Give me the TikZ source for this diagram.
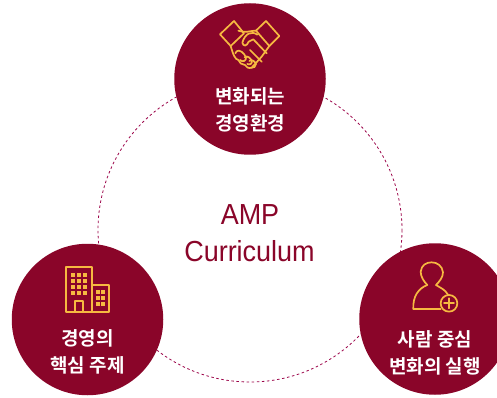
\documentclass[tikz,border=0pt]{standalone}
\usepackage{fontspec}
\setmainfont[FakeStretch=0.93]{Liberation Sans}
\newfontfamily\krfont{Noto Sans CJK KR Bold}[BoldFont=*]
\definecolor{wine}{HTML}{8A0529}
\definecolor{gold}{HTML}{F6B941}
\tikzset{
  disc/.style={circle,fill=wine,minimum size=151.5pt,inner sep=0pt,draw=none},
  lab/.style={text=white,font=\krfont\fontsize{19pt}{27pt}\selectfont,align=center,inner sep=0pt},
  title/.style={text=wine,font=\fontsize{29pt}{36pt}\selectfont,inner sep=0pt},
  ico/.style={draw=gold,line width=1.7pt,line join=round,line cap=round},
  win/.style={fill=gold,draw=none}
}
\begin{document}
\begin{tikzpicture}[x=1pt,y=-1pt]
\useasboundingbox (0,0) rectangle (497,398);
\fill[white] (0,0) rectangle (497,398);
\draw[wine!85!magenta,line width=0.8pt,dash pattern=on 2.5pt off 2.6pt] (250,230) circle [radius=152];
\begin{scope}
\clip (0,0) rectangle (497,398);
\node[disc] (top) at (250,79) {};
\node[disc] (left) at (87.5,319.5) {};
\node[disc] (right) at (435,319) {};
\end{scope}
\node[title] (t1) at (250,214.5) {AMP};
\node[title] (t2) at (249.5,251) {Curriculum};
\node[lab] (l1) at (250,109.5) {변화되는\\경영환경};
\node[lab] (l2) at (87.5,352) {경영의\\핵심 주제};
\node[lab] (l3) at (435,352.5) {사람 중심\\변화의 실행};
% handshake
\begin{scope}[shift={(170,0)},x=0.3333pt,y=-0.3333pt,ico]
\draw (150,103) -- (192,63) -- (222,100) -- (182,138) -- cycle;
\draw (258,92) -- (288,63) -- (328,108) -- (298,138);
\draw (205,92) .. controls (225,100) and (235,93) .. (258,92) -- (298,138) -- (275,170) -- (245,203) .. controls (235,207) and (228,200) .. (225,195) .. controls (215,195) and (208,188) .. (205,180) .. controls (195,178) and (190,165) .. (182,138);
\draw (262,104) .. controls (245,92) and (225,100) .. (217,128) .. controls (220,140) and (230,140) .. (236,125) -- (250,118) -- (290,160);
\draw (240,150) -- (275,185);
\draw (196,160) .. controls (200,148) and (212,150) .. (222,162) -- (228,172) .. controls (230,182) and (218,188) .. (210,180);
\draw (224,172) .. controls (232,165) and (242,175) .. (245,182) .. controls (248,190) and (240,196) .. (232,192);
\draw (238,183) .. controls (246,176) and (256,186) .. (258,192) .. controls (258,200) and (250,205) .. (245,203);
\end{scope}
% building
\begin{scope}[shift={(0,240)},x=0.3333pt,y=-0.3333pt]
\draw[ico] (197,215) rectangle (275,80);
\draw[ico] (275,136) rectangle (328,215);
\draw[ico] (224,215) rectangle (248,183);
\foreach \xx in {218,236,254}\foreach \yy in {104,122,140,158}
  \fill[win] (\xx-6,\yy-6) rectangle (\xx+6,\yy+6);
\foreach \xx in {293,310}\foreach \yy in {155,173,191}
  \fill[win] (\xx-6,\yy-6) rectangle (\xx+6,\yy+6);
\end{scope}
% person
\begin{scope}[shift={(350,240)},x=0.3333pt,y=-0.3333pt]
\draw[ico] (272,207) -- (190,207) .. controls (188,170) and (205,145) .. (232,135) .. controls (222,125) and (212,110) .. (212,95) .. controls (215,75) and (228,67) .. (245,67) .. controls (262,67) and (277,78) .. (279,97) .. controls (279,112) and (268,125) .. (258,135) .. controls (270,143) and (285,148) .. (294,164);
\draw[ico] (297,190) circle [radius=25];
\draw[ico] (297,175) -- (297,205) (282,190) -- (312,190);
\end{scope}
\end{tikzpicture}
\end{document}
